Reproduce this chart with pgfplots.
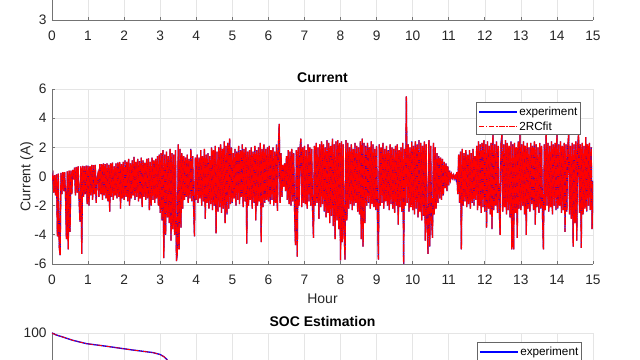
\documentclass[border=0pt]{standalone}
\usepackage{fontspec}
\setmainfont{Liberation Sans}
\usepackage{pgfplots}
\usepackage{pgfplotstable}
\pgfplotsset{compat=1.18}
\pgfplotstableread{
y
-0.3
0.05
-1.1
0.1
-1.3
0.15
-4.1
0.2
-4.8
-5.4
0.25
-1.2
0.3
-1.0
0.3
-1.3
-4.3
0.35
-5.0
0.4
-3.8
0.4
-1.2
0.45
-0.2
0.6
-1.3
0.65
-1.1
0.7
-1.5
-3.1
0.7
-5.3
0.72
-1.4
0.7
-1.2
0.75
-1.9
0.75
-2.0
0.7
-1.3
0.8
-1.6
0.78
-1.2
0.8
-1.8
-0.1
0.2
-1.4
0.85
-1.2
0.85
-1.6
0.9
-1.3
0.85
-1.5
0.9
-1.7
0.8
-2.4
0.9
-1.4
0.95
-1.6
0.7
-1.3
0.9
-1.5
0.95
-1.4
1.0
-2.2
0.85
-1.5
1.0
-1.6
1.1
-1.4
1.0
-1.7
1.2
-2.0
0.9
-1.5
1.1
-1.3
1.35
-1.6
1.0
-1.4
1.2
-1.7
1.05
-1.5
1.3
-2.1
1.1
-1.4
0.95
-1.6
1.2
-1.5
1.25
-2.3
1.0
-2.0
1.3
-1.6
1.1
-1.8
1.2
-1.5
1.4
-2.0
1.5
-2.5
1.6
-3.0
1.8
-5.6
1.5
-4.0
1.7
-2.8
1.4
-3.2
1.9
-4.4
1.6
-3.6
1.5
-4.0
1.8
-5.8
-5.3
2.2
-5.0
1.9
-3.5
1.6
-2.2
1.4
-1.6
1.3
-1.4
1.5
-1.8
1.2
-1.5
1.9
-1.7
1.4
-2.0
-4.1
1.3
-1.6
1.5
-1.8
1.3
-1.5
1.8
-2.0
1.4
-1.7
1.9
-2.9
1.5
-1.8
1.6
-2.2
1.4
-1.9
2.0
-2.3
1.8
-2.0
2.1
-3.9
1.7
-2.4
2.0
-2.1
2.2
-2.5
1.9
-2.2
2.4
-3.2
2.1
-2.6
2.3
-2.2
2.6
-1.9
2.0
-1.8
1.6
-1.5
1.9
-2.0
1.7
-1.6
2.1
-1.9
1.8
-1.4
2.2
-2.1
1.9
-1.7
2.0
-4.6
1.7
-2.0
1.8
-1.6
2.0
-2.2
1.7
-1.8
2.1
-3.0
1.8
-2.0
2.0
-1.7
2.3
-4.5
1.9
-2.1
2.2
-1.8
1.9
-1.6
2.0
-1.7
2.1
-1.9
1.8
-1.6
2.0
-2.0
1.7
-1.8
2.2
-2.35
1.9
3.6
-1.8
1.6
-1.4
0.8
-0.7
0.9
-1.0
1.4
-1.6
1.8
-1.9
1.7
-2.0
1.9
-1.7
1.6
-2.2
-4.7
1.8
-5.5
2.0
-2.0
1.9
2.6
-2.1
2.0
-1.8
2.1
-1.9
1.8
-2.2
2.2
-1.7
2.0
-2.0
1.9
-2.3
-4.2
2.1
-2.0
2.3
-1.8
2.0
-2.9
2.2
-2.1
2.4
-1.9
2.2
-2.4
2.0
-2.8
2.5
-2.5
2.3
-3.2
2.1
-2.7
2.6
-3.4
2.2
-4.3
2.4
-3.0
2.5
-3.6
2.3
-5.75
2.4
-4.5
2.2
-3.8
-5.7
2.5
-3.0
2.3
-2.2
2.0
-1.9
2.2
-2.3
1.9
-2.0
2.3
-1.8
2.1
-2.4
2.0
-2.6
2.4
-4.3
2.6
-4.8
2.3
-3.2
2.1
-2.0
2.3
-1.8
2.0
-2.2
2.4
-1.9
2.2
-2.1
1.9
-2.3
2.1
-2.6
-5.7
2.2
-2.0
2.0
-1.8
2.3
-2.2
1.9
-1.7
2.1
-2.0
1.8
-2.3
2.2
-1.9
2.0
-2.2
1.9
-2.5
2.1
-2.0
2.2
-3.3
1.8
-2.1
2.0
-2.4
2.3
-6.0
1.9
-2.0
5.5
-1.8
2.2
-2.4
2.0
-2.1
2.4
-2.3
2.1
-2.6
2.4
-2.2
2.2
-2.8
2.5
-2.4
2.3
-3.0
2.1
-2.7
2.4
-4.4
2.2
-3.2
-5.3
2.5
-4.8
2.1
-3.0
-4.2
2.3
-2.6
2.0
-2.2
1.6
-1.8
1.4
-1.5
1.3
-1.6
1.2
-1.3
1.0
-0.8
0.9
-1.0
0.7
-0.6
0.4
-0.2
0.15
-0.1
0.1
-0.15
0.05
-0.2
0.3
-1.2
1.5
-1.8
1.7
-5.0
1.9
-2.0
1.6
-1.7
1.8
-2.1
1.5
-1.9
1.8
-2.2
1.6
-1.8
1.9
-2.0
1.4
-1.6
2.1
-2.3
2.4
-2.0
2.2
-2.5
2.3
-2.1
2.5
-2.4
2.2
-3.5
2.4
-2.2
2.1
-2.6
2.3
-3.6
2.9
-2.3
2.2
-2.0
2.4
-2.5
2.1
-2.2
-4.0
2.3
2.85
-2.4
2.2
-2.1
2.5
-2.6
2.3
-2.3
2.1
-2.8
2.4
-5.0
2.2
-5.0
2.3
-2.5
2.0
-4.2
2.4
-2.2
2.85
-2.3
2.2
-2.0
2.4
-2.6
2.1
-4.0
2.3
-2.2
2.0
-2.4
2.3
-1.9
2.1
-2.3
2.4
-3.3
2.2
-2.1
2.0
-2.5
2.3
-2.2
2.1
-2.7
-5.0
2.2
-2.3
2.85
-2.0
2.3
-2.4
2.1
-2.1
2.4
-2.6
2.2
-2.0
2.3
-2.3
2.9
-2.2
2.2
-2.0
2.4
-2.5
2.1
-2.3
2.3
-3.8
2.2
-2.4
2.0
2.9
-2.6
2.1
-2.9
2.3
-4.8
2.2
-3.2
2.4
-4.4
2.1
2.95
-2.5
2.2
-4.9
2.3
-2.6
2.1
-2.2
2.7
-2.4
2.2
-2.0
2.3
-2.3
2.0
-3.6
-0.3
}\currdata
\pgfplotstableread{
h s
0 100
0.1 99.0
0.3 97.7
0.58 95.8
0.96 93.9
1.52 92.4
2.16 90.5
2.8 88.8
3.0 87.7
3.1 86.5
3.18 85
3.3 81
3.5 76
4 72
5 65
6 58
7 51
8 43
9 36
10 29
11 23
12 18
13 12
14 7
15 3
}\socdata
\definecolor{axgray}{gray}{0.45}
\definecolor{txtgray}{gray}{0.15}
\tikzset{legtext/.style={anchor=west, inner sep=0pt, font=\fontsize{8.8}{10}\selectfont}}
\pgfplotsset{
  mstyle/.style={
    scale only axis, width=405.75pt, height=131.25pt,
    xmin=0, xmax=15, xtick={0,1,...,15},
    axis x line*=bottom, axis y line*=left,
    axis line style={axgray, line width=0.5pt},
    tick align=inside, major tick length=2.5pt,
    tick style={axgray, line width=0.5pt},
    grid=major, major grid style={black!10, line width=0.4pt},
    /pgf/number format/assume math mode=true,
    tick label style={font=\fontsize{10.3}{12}\selectfont, text=txtgray},
    xticklabel style={yshift=-4.75pt},
    yticklabel style={xshift=-0.5pt},
    label style={font=\fontsize{10.5}{12}\selectfont, text=txtgray},
    xlabel style={yshift=0pt},
    ylabel style={yshift=-6pt},
    title style={font=\bfseries\fontsize{10.5}{12}\selectfont, yshift=-5pt},
  },
}
\begin{document}
\begin{tikzpicture}
\useasboundingbox (0,0) rectangle (480pt,270pt);
\clip (0,0) rectangle (480pt,270pt);
% top panel (only bottom edge visible)
\begin{axis}[mstyle, at={(39pt,255pt)}, anchor=south west,
  ymin=3, ymax=4.5, ytick={3,3.5,4,4.5}]
\end{axis}
% middle panel
\begin{axis}[mstyle, at={(39pt,72pt)}, anchor=south west,
  ymin=-6, ymax=6, ytick={-6,-4,-2,0,2,4,6},
  title={Current}, xlabel={Hour}, ylabel={Current (A)}]
\addplot[color=blue, draw=blue, line width=0.9pt] table[x expr=\coordindex*0.025, y=y]{\currdata};
\addplot[color=red, draw=red, line width=0.95pt, dash pattern=on 6pt off 0.6pt on 0.8pt off 0.6pt] table[x expr=\coordindex*0.025, y=y]{\currdata};
% legend
\draw[draw=black!60, line width=0.5pt, fill=white] ([shift={(-87.75pt,-33.75pt)}]rel axis cs:1,1) rectangle ([shift={(-9.75pt,-9.75pt)}]rel axis cs:1,1);
\draw[blue, line width=0.9pt] ([shift={(-85.5pt,-17.25pt)}]rel axis cs:1,1) -- ([shift={(-57pt,-17.25pt)}]rel axis cs:1,1);
\node[legtext] at ([shift={(-55.5pt,-17.25pt)}]rel axis cs:1,1) {experiment};
\draw[red, line width=0.7pt, dash pattern=on 4pt off 1.3pt on 1pt off 1.3pt] ([shift={(-85.5pt,-27.75pt)}]rel axis cs:1,1) -- ([shift={(-57pt,-27.75pt)}]rel axis cs:1,1);
\node[legtext] at ([shift={(-55.5pt,-27.75pt)}]rel axis cs:1,1) {2RCfit};
\end{axis}
% bottom panel (only top edge visible)
\begin{axis}[mstyle, at={(39pt,20.25pt)}, anchor=north west,
  ymin=0, ymax=100, ytick={0,20,40,60,80,100},
  title={SOC Estimation}]
\addplot[color=blue, draw=blue, line width=1.0pt] table[x=h, y=s]{\socdata};
\addplot[color=red, draw=red, line width=0.6pt, dash pattern=on 4pt off 1pt on 1pt off 1pt] table[x=h, y=s]{\socdata};
% legend
\draw[draw=black!60, line width=0.5pt, fill=white] ([shift={(-87pt,-30.75pt)}]rel axis cs:1,1) rectangle ([shift={(-9pt,-6.75pt)}]rel axis cs:1,1);
\draw[blue, line width=0.9pt] ([shift={(-84.75pt,-14.25pt)}]rel axis cs:1,1) -- ([shift={(-56.25pt,-14.25pt)}]rel axis cs:1,1);
\node[legtext] at ([shift={(-54.75pt,-14.25pt)}]rel axis cs:1,1) {experiment};
\draw[red, line width=0.7pt, dash pattern=on 4pt off 1.3pt on 1pt off 1.3pt] ([shift={(-84.75pt,-24.75pt)}]rel axis cs:1,1) -- ([shift={(-56.25pt,-24.75pt)}]rel axis cs:1,1);
\node[legtext] at ([shift={(-54.75pt,-24.75pt)}]rel axis cs:1,1) {2RCfit};
\end{axis}
\end{tikzpicture}
\end{document}
